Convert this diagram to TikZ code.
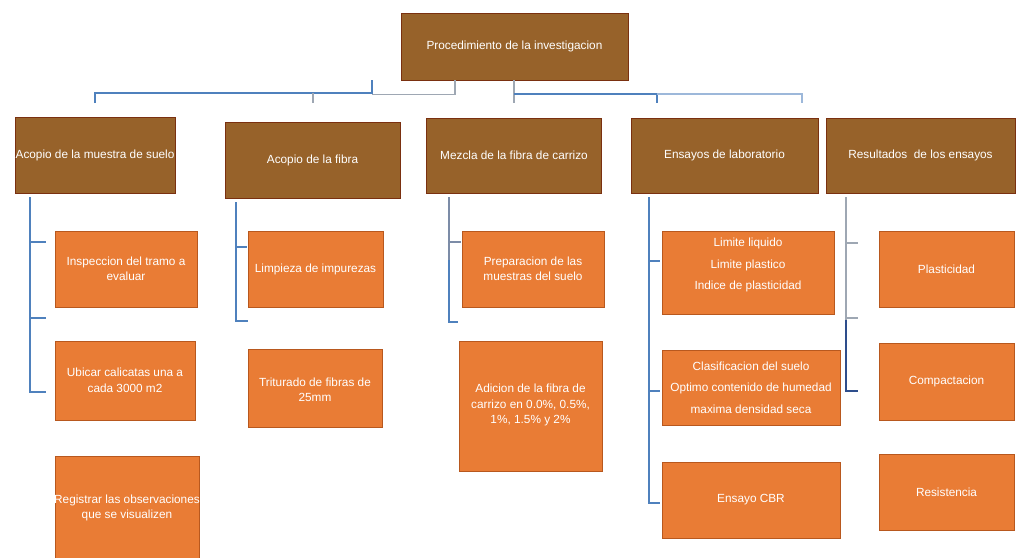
\documentclass[tikz,border=0pt]{standalone}
\usepackage{fontspec}
\setmainfont{Liberation Sans}
\definecolor{hdrfill}{HTML}{97622A}
\definecolor{hdrdraw}{HTML}{7A3010}
\definecolor{boxfill}{HTML}{E97C35}
\definecolor{boxdraw}{HTML}{B8581E}
\definecolor{lblue}{HTML}{4F81BD}
\definecolor{lgray}{HTML}{9EA7B3}
\definecolor{llight}{HTML}{9DB8DA}
\definecolor{ldark}{HTML}{2E4E8C}
\begin{document}
\begin{tikzpicture}[x=1pt,y=-1pt,
  hdr/.style={draw=hdrdraw,fill=hdrfill,line width=1pt,inner sep=0pt},
  obox/.style={draw=boxdraw,fill=boxfill,line width=0.8pt,inner sep=0pt},
  lbl/.style={text=white,font=\fontsize{11.8}{15.5}\selectfont,align=center,inner sep=0pt},
  lbl3/.style={text=white,font=\fontsize{11.8}{21.5}\selectfont,align=center,inner sep=0pt},
  conn/.style={line width=1.4pt,lblue},
  conng/.style={line width=1.4pt,lgray}]
\useasboundingbox (0,0) rectangle (1016,557);
% top
\node[hdr,minimum width=227pt,minimum height=67pt] (top) at (514.5,46.5) {};
\node[lbl] (topt) at (top.center) {Procedimiento de la investigacion};
% headers
\node[hdr,minimum width=160pt,minimum height=76pt] (h1) at (95,155) {};
\node[lbl] (h1t) at (h1.center) {Acopio de la muestra de suelo};
\node[hdr,minimum width=175pt,minimum height=76pt] (h2) at (312.5,160) {};
\node[lbl] (h2t) at (h2.center) {Acopio de la fibra};
\node[hdr,minimum width=175pt,minimum height=75pt] (h3) at (514,155.5) {};
\node[lbl] (h3t) at (h3.center) {Mezcla de la fibra de carrizo};
\node[hdr,minimum width=187pt,minimum height=75pt] (h4) at (724.5,155.5) {};
\node[lbl] (h4t) at (h4.center) {Ensayos de laboratorio};
\node[hdr,minimum width=189pt,minimum height=75pt] (h5) at (920.5,155.5) {};
\node[lbl] (h5t) at (h5.center) {Resultados\ \ de los ensayos};
% boxes
\node[obox,minimum width=142pt,minimum height=76pt] (b1) at (126,269) {};
\node[lbl] (b1t) at (b1.center) {Inspeccion del tramo a\\evaluar};
\node[obox,minimum width=140pt,minimum height=79pt] (b2) at (125,380.5) {};
\node[lbl] (b2t) at (b2.center) {Ubicar calicatas una a\\cada 3000 m2};
\node[obox,minimum width=144pt,minimum height=104pt] (b3) at (127,508) {};
\node[lbl] (b3t) at (b3.center) {Registrar las observaciones\\que se visualizen};
\node[obox,minimum width=135pt,minimum height=76pt] (b4) at (315.5,269) {};
\node[lbl] (b4t) at (b4.center) {Limpieza de impurezas};
\node[obox,minimum width=134pt,minimum height=78pt] (b5) at (315,388) {};
\node[lbl] (b5t) at (315,390) {Triturado de fibras de\\25mm};
\node[obox,minimum width=142pt,minimum height=76pt] (b6) at (533,269) {};
\node[lbl] (b6t) at (b6.center) {Preparacion de las\\muestras del suelo};
\node[obox,minimum width=143pt,minimum height=130pt] (b7) at (530.5,406) {};
\node[lbl] (b7t) at (530.5,405) {Adicion de la fibra de\\carrizo en 0.0\%, 0.5\%,\\1\%, 1.5\% y 2\%};
\node[obox,minimum width=172pt,minimum height=83pt] (b8) at (748,272.5) {};
\node[lbl3] (b8t) at (748,265) {Limite liquido\\Limite plastico\\Indice de plasticidad};
\node[obox,minimum width=178pt,minimum height=75pt] (b9) at (751,387.5) {};
\node[lbl3] (b9t) at (751,387.5) {Clasificacion del suelo\\Optimo contenido de humedad\\maxima densidad seca};
\node[obox,minimum width=178pt,minimum height=76pt] (b10) at (751,500) {};
\node[lbl] (b10t) at (b10.center) {Ensayo CBR};
\node[obox,minimum width=135pt,minimum height=76pt] (b11) at (946.5,269) {};
\node[lbl] (b11t) at (b11.center) {Plasticidad};
\node[obox,minimum width=135pt,minimum height=77pt] (b12) at (946.5,381.5) {};
\node[lbl] (b12t) at (b12.center) {Compactacion};
\node[obox,minimum width=135pt,minimum height=76pt] (b13) at (946.5,492) {};
\node[lbl] (b13t) at (b13.center) {Resistencia};
% top connectors
\coordinate (ta) at (372,80);
\coordinate (tb) at (455,80);
\coordinate (tc) at (514,80);
\draw[conn] (95,103) -- (95,93) -- (372,93) -- (ta);
\draw[conng] (372,94.5) -- (455,94.5) -- (tb);
\draw[conng] (313,93) -- (313,103);
\draw[conng] (tc) -- (514,103);
\draw[conn] (514,94) -- (657,94) -- (657,103);
\draw[line width=1.4pt,llight] (657,94) -- (802,94) -- (802,103);
% header brackets
\coordinate (v1) at (30,197);
\draw[conn] (v1) -- (30,392) -- (46,392);
\draw[conn] (30,242) -- (46,242);
\draw[conn] (30,318) -- (46,318);
\coordinate (v2) at (236,202);
\draw[conn] (v2) -- (236,321) -- (248,321);
\draw[conn] (236,247) -- (247,247);
\coordinate (v3) at (449,197);
\draw[line width=1.4pt,lgray!70!ldark] (v3) -- (449,260);
\draw[conn] (449,260) -- (449,322) -- (458,322);
\draw[line width=1.4pt,lgray!70!ldark] (449,242) -- (461,242);
\coordinate (v4) at (649,197);
\draw[conn] (v4) -- (649,503) -- (660,503);
\draw[conn] (649,261) -- (660,261);
\draw[conn] (649,391) -- (660,391);
\coordinate (v5) at (846,197);
\draw[conng] (v5) -- (846,320);
\draw[line width=1.4pt,ldark] (846,320) -- (846,391) -- (858,391);
\draw[conng] (846,243) -- (858,243);
\draw[conng] (846,318) -- (858,318);
\end{tikzpicture}
\end{document}
